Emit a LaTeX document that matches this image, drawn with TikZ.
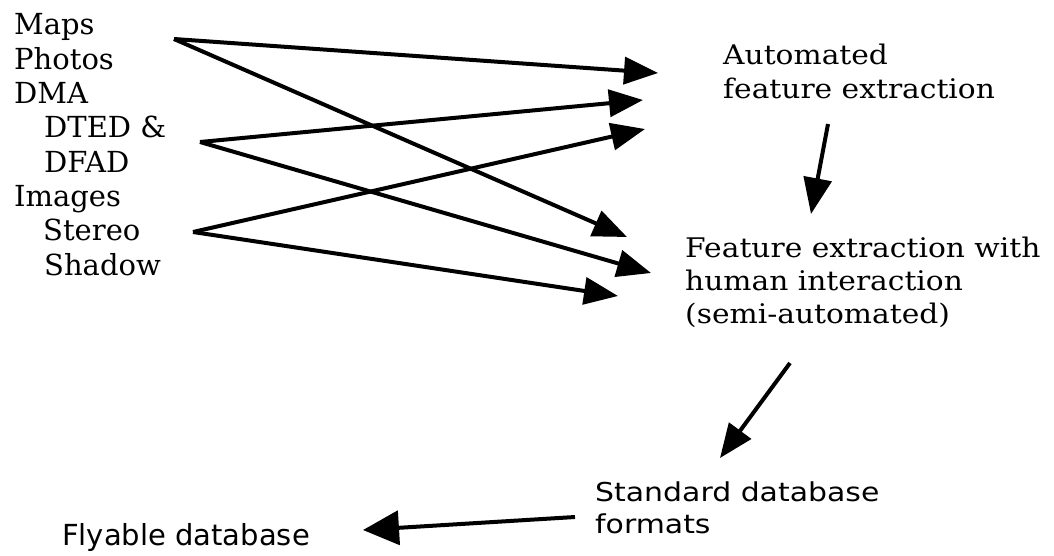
\documentclass[tikz,border=0pt]{standalone}
\usepackage{fontspec}
\newfontfamily\lfont{DejaVu Serif}
\newfontfamily\rfont[FakeStretch=1.1]{DejaVu Serif}
\newfontfamily\sfont{DejaVu Sans}
\newfontfamily\stdfont[FakeStretch=1.15]{DejaVu Sans}
\usetikzlibrary{arrows.meta}
\tikzset{
  listtext/.style={anchor=base west, inner sep=0pt, align=left, font=\lfont\fontsize{29}{34.3}\selectfont},
  righttext/.style={anchor=base west, inner sep=0pt, align=left, font=\rfont\fontsize{27}{34}\selectfont},
  stdtext/.style={anchor=base west, inner sep=0pt, align=left, font=\stdfont\fontsize{26}{32}\selectfont},
  flytext/.style={anchor=base west, inner sep=0pt, align=left, font=\sfont\fontsize{29}{34}\selectfont},
  arr/.style={line width=4pt, -{Triangle[length=34pt,width=27pt]}},
}
\begin{document}
\begin{tikzpicture}[x=1pt,y=-1pt]
\fill[white] (0,0) rectangle (1054,555);
\useasboundingbox (0,0) rectangle (1054,555);
% text blocks (anchored at the baseline of their last line)
\node[listtext] (src) at (14,275) {Maps\\Photos\\DMA\\\hspace*{30pt}DTED \&\\\hspace*{30pt}DFAD\\Images\\\hspace*{29pt}Stereo\\\hspace*{30pt}Shadow};
\node[righttext] (auto) at (723,98) {Automated\\feature extraction};
\node[righttext, font=\rfont\fontsize{27}{33}\selectfont] (semi) at (685,323) {Feature extraction with\\human interaction\\(semi-automated)};
\node[stdtext] (std) at (595,533) {Standard database\\formats};
\node[flytext] (fly) at (62,545) {Flyable database};
% connector end points
\coordinate (mapsOut) at (174,39);
\coordinate (dtedOut) at (200,142);
\coordinate (stereoOut) at (193,232);
\coordinate (autoIn1) at (658,73);
\coordinate (autoIn2) at (643,100);
\coordinate (autoIn3) at (645,129);
\coordinate (semiIn1) at (627,237);
\coordinate (semiIn2) at (651,273);
\coordinate (semiIn3) at (618,296);
\coordinate (autoOut) at (828,124);
\coordinate (semiTop) at (811,214);
\coordinate (semiOut) at (790,363);
\coordinate (stdTop) at (720,458);
\coordinate (stdOut) at (575,517);
\coordinate (flyIn) at (363,530);
% connectors
\draw[arr] (mapsOut) -- (autoIn1);
\draw[arr] (mapsOut) -- (semiIn1);
\draw[arr] (dtedOut) -- (autoIn2);
\draw[arr] (dtedOut) -- (semiIn2);
\draw[arr] (stereoOut) -- (autoIn3);
\draw[arr] (stereoOut) -- (semiIn3);
\draw[arr, -{Triangle[length=36pt,width=28pt]}] (autoOut) -- (semiTop);
\draw[arr] (semiOut) -- (stdTop);
\draw[arr, -{Triangle[length=36pt,width=34pt]}] (stdOut) -- (flyIn);
\end{tikzpicture}
\end{document}
